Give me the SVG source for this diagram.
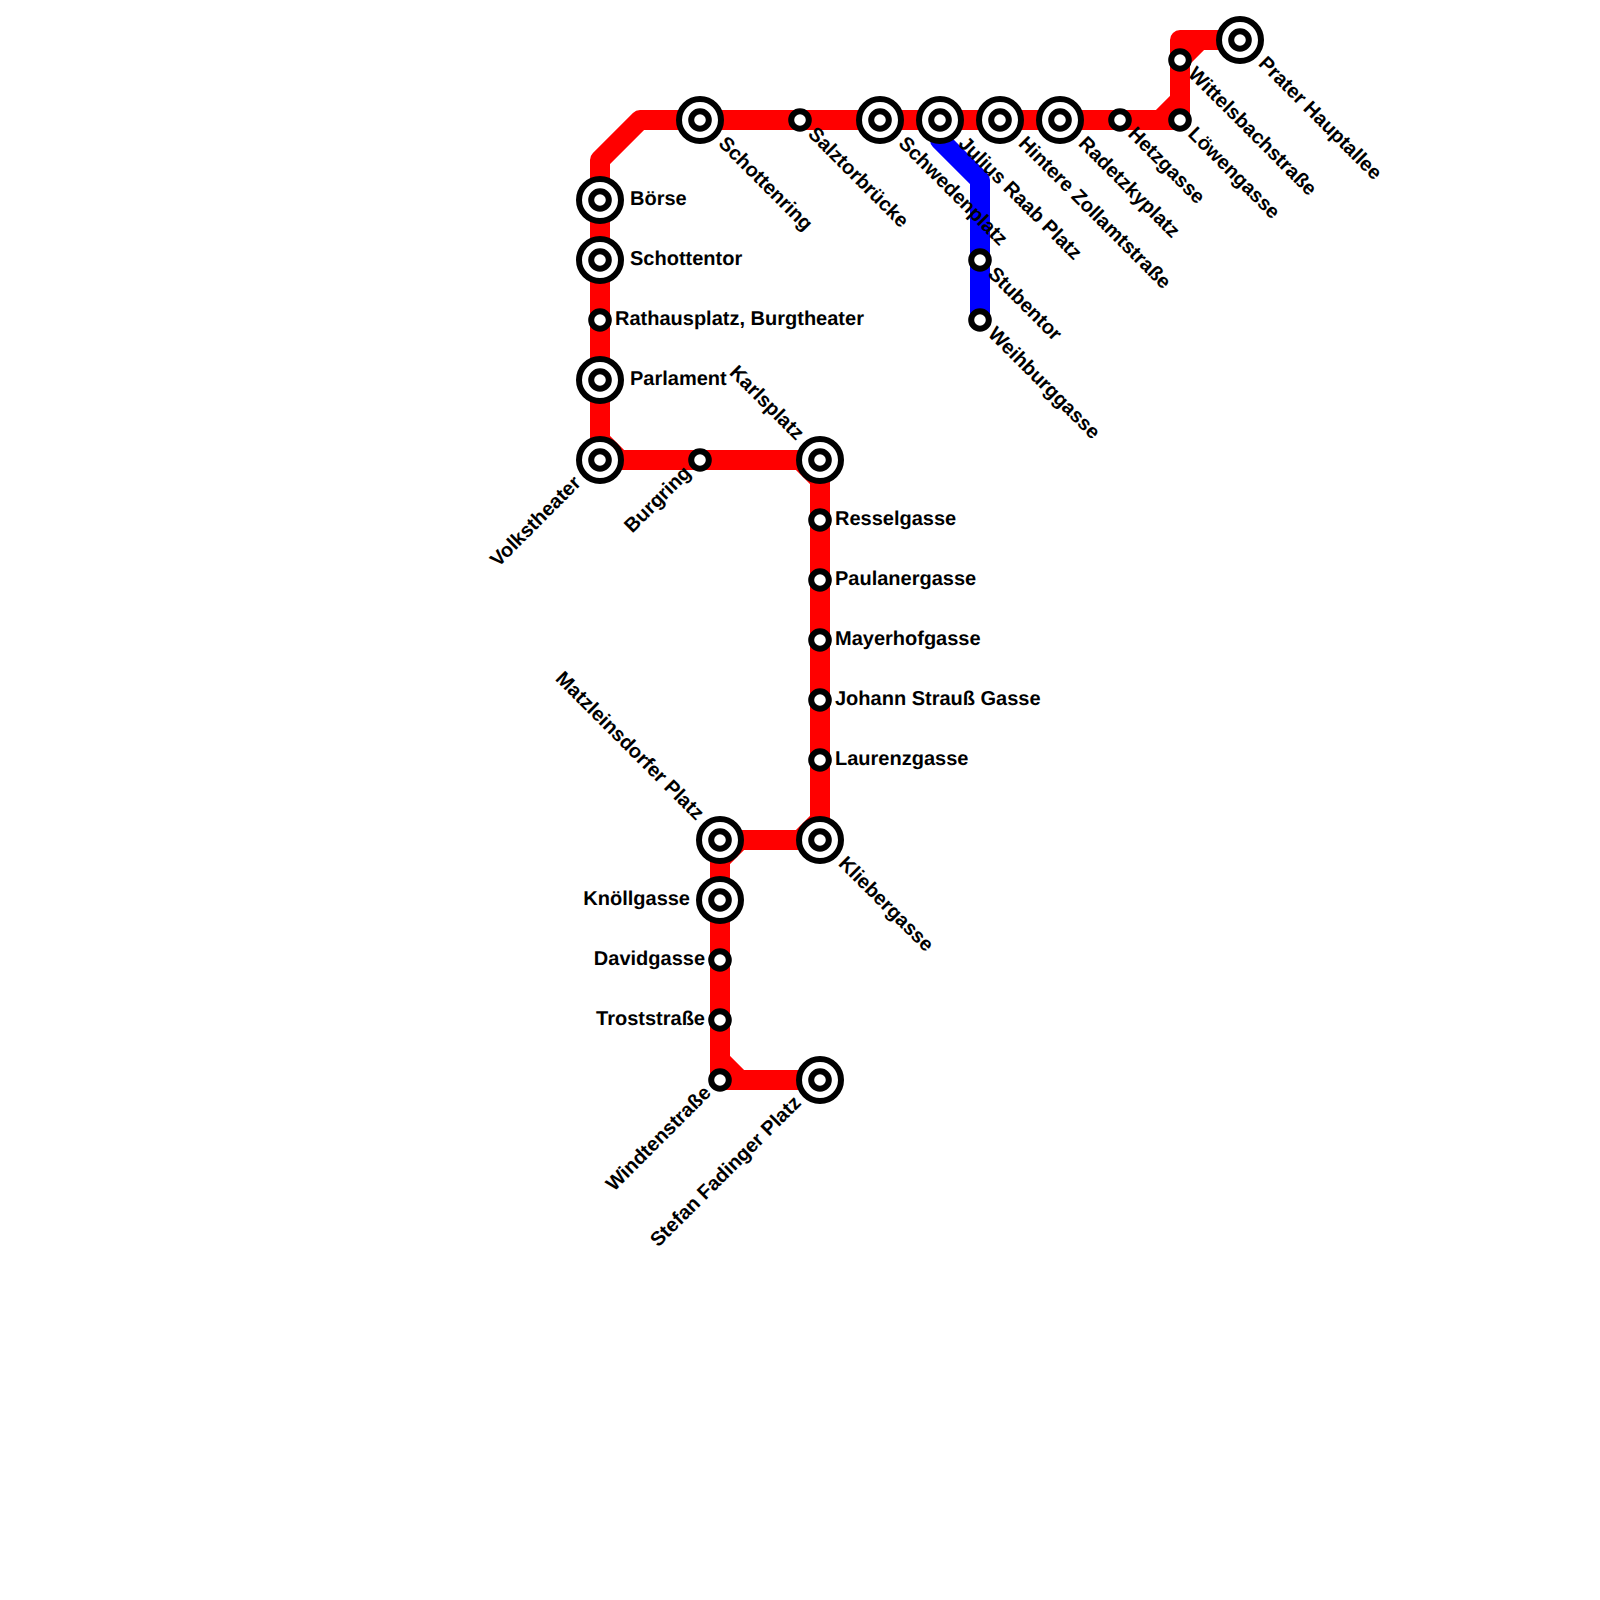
<svg xmlns="http://www.w3.org/2000/svg" width="1600" height="1600" viewBox="0 0 1600 1600">
<defs>
<style>
.l{fill:none;stroke-width:20;stroke-linejoin:round;stroke-linecap:round}
.r{stroke:#f00}.b{stroke:#00f}
.o{fill:#fff;stroke:#000;stroke-width:6}
text{font-family:"Liberation Sans",Arial,sans-serif;font-weight:bold;font-size:20px;fill:#000;text-rendering:geometricPrecision}
.e{text-anchor:end}
</style>
<g id="big"><circle class="o" r="21"/><circle class="o" r="8.8"/></g>
<circle id="small" class="o" r="8.8"/>
</defs>
<rect width="1600" height="1600" fill="#fff"/>
<g id="connectors">
<path class="l b" d="M940 120V140L980 180V320"/>
<path class="l r" d="M1240 40H1200L1180 60V40H1200M1180 60V120H1160L1180 100M1160 120H640L600 160V440L620 460H800L820 480V820L800 840H720V1060L740 1080H820M720 860L740 840M600 440V460H620M800 460H820V480M820 820V840H800M720 840V860M720 1060V1080H740"/>
</g>
<g id="n1"><use href="#big" x="700" y="120"/><text transform="translate(717.5,144.5) rotate(45)">Schottenring</text></g>
<g id="n2"><use href="#small" x="800" y="120"/><text transform="translate(807,135) rotate(45)">Salztorbrücke</text></g>
<g id="n3"><use href="#big" x="880" y="120"/><text transform="translate(897.5,144.5) rotate(45)">Schwedenplatz</text></g>
<g id="n4"><use href="#big" x="940" y="120"/><text transform="translate(957.5,144.5) rotate(45)">Julius Raab Platz</text></g>
<g id="n5"><use href="#big" x="1000" y="120"/><text transform="translate(1017.5,144.5) rotate(45)">Hintere Zollamtstraße</text></g>
<g id="n6"><use href="#big" x="1060" y="120"/><text transform="translate(1077.5,144.5) rotate(45)">Radetzkyplatz</text></g>
<g id="n7"><use href="#small" x="1120" y="120"/><text transform="translate(1127,135) rotate(45)">Hetzgasse</text></g>
<g id="n8"><use href="#small" x="1180" y="120"/><text transform="translate(1187,135) rotate(45)">Löwengasse</text></g>
<g id="n9"><use href="#small" x="1180" y="60"/><text transform="translate(1187,75) rotate(45)">Wittelsbachstraße</text></g>
<g id="n10"><use href="#big" x="1240" y="40"/><text transform="translate(1257.5,64.5) rotate(45)">Prater Hauptallee</text></g>
<g id="n11"><use href="#small" x="980" y="260"/><text transform="translate(987,275) rotate(45)">Stubentor</text></g>
<g id="n12"><use href="#small" x="980" y="320"/><text transform="translate(987,335) rotate(45)">Weihburggasse</text></g>
<g id="n13"><use href="#big" x="600" y="200"/><text x="630" y="204.5">Börse</text></g>
<g id="n14"><use href="#big" x="600" y="260"/><text x="630" y="264.5">Schottentor</text></g>
<g id="n15"><use href="#small" x="600" y="320"/><text x="615" y="324.5">Rathausplatz, Burgtheater</text></g>
<g id="n16"><use href="#big" x="600" y="380"/><text x="630" y="384.5">Parlament</text></g>
<g id="n17"><use href="#big" x="600" y="460"/><text class="e" transform="translate(582,484) rotate(-45)">Volkstheater</text></g>
<g id="n18"><use href="#small" x="700" y="460"/><text class="e" transform="translate(692,474) rotate(-45)">Burgring</text></g>
<g id="n19"><use href="#big" x="820" y="460"/><text class="e" transform="translate(796,441) rotate(45)">Karlsplatz</text></g>
<g id="n20"><use href="#small" x="820" y="520"/><text x="835" y="524.5">Resselgasse</text></g>
<g id="n21"><use href="#small" x="820" y="580"/><text x="835" y="584.5">Paulanergasse</text></g>
<g id="n22"><use href="#small" x="820" y="640"/><text x="835" y="644.5">Mayerhofgasse</text></g>
<g id="n23"><use href="#small" x="820" y="700"/><text x="835" y="704.5">Johann Strauß Gasse</text></g>
<g id="n24"><use href="#small" x="820" y="760"/><text x="835" y="764.5">Laurenzgasse</text></g>
<g id="n25"><use href="#big" x="820" y="840"/><text transform="translate(837.5,864.5) rotate(45)">Kliebergasse</text></g>
<g id="n26"><use href="#big" x="720" y="840"/><text class="e" transform="translate(696,821) rotate(45)">Matzleinsdorfer Platz</text></g>
<g id="n27"><use href="#big" x="720" y="900"/><text class="e" x="690" y="904.5">Knöllgasse</text></g>
<g id="n28"><use href="#small" x="720" y="960"/><text class="e" x="705" y="964.5">Davidgasse</text></g>
<g id="n29"><use href="#small" x="720" y="1020"/><text class="e" x="705" y="1024.5">Troststraße</text></g>
<g id="n30"><use href="#small" x="720" y="1080"/><text class="e" transform="translate(712,1094) rotate(-45)">Windtenstraße</text></g>
<g id="n31"><use href="#big" x="820" y="1080"/><text class="e" transform="translate(802,1104) rotate(-45)">Stefan Fadinger Platz</text></g>
</svg>
